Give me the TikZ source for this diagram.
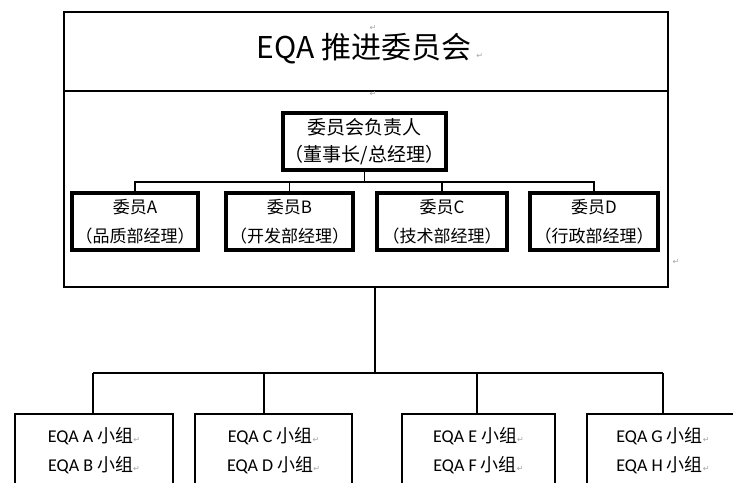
\documentclass[tikz,border=0pt]{standalone}
\usepackage{fontspec}
\setmainfont{Noto Sans CJK SC}
\newfontfamily\cjk{Noto Sans CJK SC}
\newfontfamily\latin{Carlito}
\newfontfamily\symb{DejaVu Sans}
\newcommand{\parmark}{{\symb\fontsize{8}{8}\selectfont\color{gray!70}↵}}
\begin{document}
\begin{tikzpicture}[x=1pt,y=-1pt,
  outerbox/.style={draw, line width=2pt, rectangle, inner sep=0pt},
  headbox/.style={draw, line width=3.5pt, rectangle, inner sep=0pt, align=center, font=\cjk\fontsize{19}{27}\selectfont},
  memberbox/.style={draw, line width=4pt, rectangle, inner sep=0pt, align=center, minimum height=57pt, font=\cjk\fontsize{17}{29}\selectfont},
  groupbox/.style={draw, line width=2.5pt, rectangle, inner sep=0pt, align=center, minimum height=74pt, font=\fontsize{18}{29}\selectfont},
  thinline/.style={line width=1.5pt},
  thickline/.style={line width=2.5pt},
  pmark/.style={inner sep=0pt}
]
\useasboundingbox (0,0) rectangle (733,482);
\clip (0,0) rectangle (733,482);
\fill[white] (0,0) rectangle (733,482);

% committee frame
\node[outerbox, minimum width=604pt, minimum height=79pt] (title) at (366,51.5) {};
\node[outerbox, minimum width=604pt, minimum height=196pt] (comm) at (366,189) {};
\node[font=\cjk\fontsize{30}{30}\selectfont] (titletext) at (370,49) {EQA 推进委员会\,\parmark};
\node[pmark] (pm1) at (373,28) {\parmark};
\node[pmark] (pm2) at (373,94) {\parmark};
\node[pmark] (pm3) at (676,262) {\parmark};

% head and members
\node[headbox, minimum width=163pt, minimum height=57pt] (head) at (364.5,141.5) {委员会负责人\\（董事长/总经理）};
\node[memberbox, minimum width=126pt] (mA) at (135,221.5) {委员A\\（品质部经理）};
\node[memberbox, minimum width=127pt] (mB) at (289.5,221.5) {委员B\\（开发部经理）};
\node[memberbox, minimum width=130pt] (mC) at (442,221.5) {委员C\\（技术部经理）};
\node[memberbox, minimum width=128pt] (mD) at (594,221.5) {委员D\\（行政部经理）};

\coordinate (bus) at (365,182);
\draw[thinline] (head.south) -- (head.south |- bus);
\draw[thinline] (mA.north) -- (mA.north |- bus) -- (mD.north |- bus) -- (mD.north);
\draw[thinline] (mB.north) -- (mB.north |- bus);
\draw[thinline] (mC.north) -- (mC.north |- bus);

% groups
\node[groupbox, minimum width=158pt] (g1) at (94,451) {\latin EQA A \cjk 小组\parmark\\\latin EQA B \cjk 小组\parmark};
\node[groupbox, minimum width=157pt] (g2) at (273.5,451) {\latin EQA C \cjk 小组\parmark\\\latin EQA D \cjk 小组\parmark};
\node[groupbox, minimum width=153pt] (g3) at (478.5,451) {\latin EQA E \cjk 小组\parmark\\\latin EQA F \cjk 小组\parmark};
\node[groupbox, minimum width=152pt] (g4) at (663,451) {\latin EQA G \cjk 小组\parmark\\\latin EQA H \cjk 小组\parmark};

\coordinate (stemtop) at (375,287);
\coordinate (d1) at (93,373);
\coordinate (d2) at (264,373);
\coordinate (d3) at (477,373);
\coordinate (d4) at (663,373);
\draw[thickline] (stemtop) -- (stemtop |- d1);
\draw[thickline] (d1) -- (d4);
\draw[thickline] (d1) -- (d1 |- g1.north);
\draw[thickline] (d2) -- (d2 |- g2.north);
\draw[thickline] (d3) -- (d3 |- g3.north);
\draw[thickline] (d4) -- (d4 |- g4.north);
\end{tikzpicture}
\end{document}
